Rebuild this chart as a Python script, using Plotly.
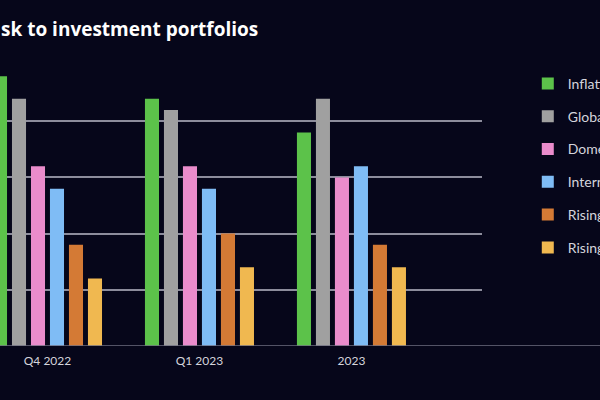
import plotly.graph_objects as go

# ---------------------------- Data ---------------------------------
periods = ["Q4 2022", "Q1 2023", "2023"]
series_names = ["Inflatio", "Global", "Domes", "Intern", "Rising", "Rising "]
series_colors = ["#5cc24a", "#a0a0a0", "#ea8ccc", "#7fbcf5", "#d47a35", "#f0b850"]

inflation = [4.8, 4.4, 3.8]
global_risk = [4.4, 4.2, 4.4]
domestic = [3.2, 3.2, 3.0]
international = [2.8, 2.8, 3.2]
rising_a = [1.8, 2.0, 1.8]
rising_b = [1.2, 1.4, 1.4]
series_values = [inflation, global_risk, domestic, international, rising_a, rising_b]

grid_ticks = [1, 2, 3, 4]

# ---------------------------- Figure ---------------------------------
bg = "#06061a"
fig = go.Figure()
for name, color, vals in zip(series_names, series_colors, series_values):
    fig.add_trace(go.Bar(
        x=periods, y=vals, name=name,
        marker=dict(color=color, line=dict(width=0)),
        legendgroup=name,
    ))

fig.update_layout(
    width=600, height=400,
    paper_bgcolor=bg, plot_bgcolor=bg,
    barmode="group", bargap=0.25, bargroupgap=0.26,
    margin=dict(l=0, r=118, t=65, b=54, autoexpand=False),
    font=dict(family="Lato", color="#d4d4dc", size=12),
    showlegend=True,
    legend=dict(
        x=1.095, y=0.99, xanchor="left", yanchor="top",
        font=dict(size=14, color="#d4d4dc"),
        tracegroupgap=11.6, bgcolor="rgba(0,0,0,0)",
    ),
    annotations=[dict(
        text="<b>sk to investment portfolios</b>",
        xref="paper", yref="paper", x=-0.002, y=1.0,
        xanchor="left", yanchor="bottom", yshift=21, showarrow=False,
        font=dict(family="Open Sans", size=19, color="#ffffff"),
    )],
    shapes=[dict(
        type="line", xref="paper", yref="y", x0=0, x1=600 / 482, y0=0, y1=0,
        line=dict(color="#6e6e80", width=1.5),
    )],
)
fig.update_xaxes(
    type="category", range=[-0.3125, 2.859], showgrid=False, zeroline=False,
    showline=False, ticks="", ticklabelstandoff=6,
    tickfont=dict(size=12, color="#d4d4dc"),
)
fig.update_yaxes(
    range=[0, 5], tickvals=grid_ticks, showticklabels=False,
    showgrid=True, gridcolor="#8c8c9c", gridwidth=1.5, zeroline=False,
)

fig.write_html(
    "out.html",
    config={"displayModeBar": False},
    post_script="document.body.style.margin='0';document.body.style.overflow='hidden';"
    "document.body.style.background='" + bg + "';",
)
